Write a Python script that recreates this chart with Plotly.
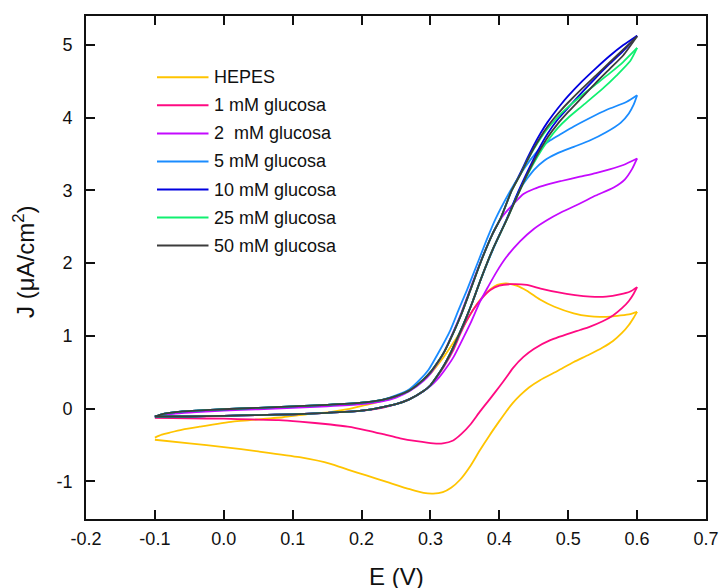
import plotly.graph_objects as go

X_TICKS = [-0.2, -0.1, 0.0, 0.1, 0.2, 0.3, 0.4, 0.5, 0.6, 0.7]
X_LABELS = ["-0.2", "-0.1", "0.0", "0.1", "0.2", "0.3", "0.4", "0.5", "0.6", "0.7"]
Y_TICKS = [-1, 0, 1, 2, 3, 4, 5]
Y_LABELS = ["-1", "0", "1", "2", "3", "4", "5"]

NAMES = ["HEPES", "1 mM glucosa", "2  mM glucosa", "5 mM glucosa",
         "10 mM glucosa", "25 mM glucosa", "50 mM glucosa"]
COLORS = ["#FFC400", "#FF0A82", "#C40AFF", "#1A8CFF", "#0000E0", "#10F070", "#3C3C3C"]

# HEPES
E_HEPES_F = [-0.1, -0.09, -0.078, -0.06, -0.035, 0.013, 0.038, 0.086, 0.12, 0.154, 0.18, 0.207, 0.225,
             0.241, 0.26, 0.28, 0.30, 0.32, 0.333, 0.343, 0.352, 0.362, 0.375, 0.387, 0.397, 0.41,
             0.425, 0.44, 0.459, 0.48, 0.508, 0.53, 0.546, 0.562, 0.576, 0.59, 0.6]
J_HEPES_F = [-0.40, -0.36, -0.33, -0.29, -0.25, -0.18, -0.16, -0.12, -0.08, -0.05, -0.01, 0.05, 0.09,
             0.14, 0.21, 0.32, 0.48, 0.72, 0.90, 1.05, 1.20, 1.36, 1.53, 1.64, 1.70, 1.72,
             1.69, 1.62, 1.50, 1.40, 1.31, 1.27, 1.26, 1.265, 1.28, 1.30, 1.33]
E_HEPES_R = [0.6, 0.595, 0.588, 0.578, 0.565, 0.55, 0.53, 0.508, 0.485, 0.459, 0.443, 0.43, 0.42, 0.41,
             0.401, 0.385, 0.372, 0.358, 0.343, 0.33, 0.318, 0.304, 0.29, 0.27, 0.24, 0.207, 0.18,
             0.155, 0.11, 0.05, 0.0, -0.05, -0.1]
J_HEPES_R = [1.33, 1.25, 1.15, 1.04, 0.93, 0.84, 0.74, 0.64, 0.52, 0.39, 0.29, 0.18, 0.08, -0.04,
             -0.16, -0.38, -0.57, -0.79, -0.98, -1.09, -1.15, -1.17, -1.16, -1.11, -1.02, -0.92, -0.84,
             -0.76, -0.67, -0.59, -0.53, -0.48, -0.43]

# 1 mM
E_1_F = [-0.1, -0.05, 0.0, 0.05, 0.1, 0.15, 0.2, 0.23, 0.25, 0.27, 0.29, 0.30, 0.31, 0.32, 0.333,
         0.343, 0.352, 0.362, 0.375, 0.387, 0.40, 0.416, 0.44, 0.46, 0.484, 0.51, 0.532, 0.555,
         0.575, 0.59, 0.6]
J_1_F = [-0.12, -0.11, -0.10, -0.09, -0.08, -0.06, -0.03, 0.01, 0.06, 0.13, 0.24, 0.32, 0.44, 0.58, 0.80,
         1.02, 1.20, 1.36, 1.52, 1.63, 1.69, 1.71, 1.70, 1.65, 1.60, 1.56, 1.54, 1.54,
         1.57, 1.61, 1.67]
E_1_R = [0.6, 0.595, 0.588, 0.578, 0.565, 0.55, 0.53, 0.517, 0.474, 0.45, 0.435, 0.42, 0.411, 0.40, 0.387,
         0.372, 0.358, 0.345, 0.333, 0.318, 0.304, 0.28, 0.256, 0.23, 0.207, 0.18, 0.155, 0.11, 0.08, 0.04,
         0.0, -0.05, -0.1]
J_1_R = [1.67, 1.58, 1.48, 1.38, 1.28, 1.20, 1.12, 1.08, 0.94, 0.82, 0.71, 0.56, 0.44, 0.30, 0.14,
         -0.04, -0.22, -0.35, -0.44, -0.48, -0.48, -0.45, -0.41, -0.35, -0.30, -0.25, -0.22, -0.18, -0.16, -0.15,
         -0.14, -0.135, -0.13]

# 2 mM
E_2_F = [-0.1, -0.09, -0.07, -0.04, 0.0, 0.05, 0.1, 0.15, 0.2, 0.23, 0.25, 0.27, 0.29, 0.30, 0.31, 0.32,
         0.333, 0.345, 0.356, 0.372, 0.39, 0.405, 0.421, 0.435, 0.45, 0.469, 0.49, 0.517, 0.54, 0.56,
         0.58, 0.6]
J_2_F = [-0.11, -0.09, -0.07, -0.05, -0.03, -0.01, 0.01, 0.03, 0.06, 0.10, 0.15, 0.24, 0.38, 0.48, 0.62, 0.78,
         1.05, 1.32, 1.60, 2.00, 2.40, 2.65, 2.82, 2.95, 3.02, 3.08, 3.13, 3.19, 3.24, 3.29,
         3.35, 3.44]
E_2_R = [0.6, 0.593, 0.582, 0.566, 0.54, 0.517, 0.49, 0.469, 0.45, 0.43, 0.41, 0.396, 0.384, 0.372,
         0.358, 0.345, 0.333, 0.32, 0.31, 0.30, 0.28, 0.25, 0.22, 0.2, 0.15, 0.1, 0.05, 0.0, -0.05, -0.1]
J_2_R = [3.44, 3.30, 3.15, 3.04, 2.93, 2.82, 2.70, 2.59, 2.47, 2.30, 2.08, 1.88, 1.68, 1.47,
         1.17, 0.92, 0.70, 0.52, 0.40, 0.31, 0.18, 0.06, 0.0, -0.03, -0.06, -0.08, -0.09, -0.10, -0.11, -0.11]

# 5 mM
E_5_F = [-0.1, -0.09, -0.07, -0.04, 0.0, 0.05, 0.1, 0.15, 0.2, 0.23, 0.25, 0.27, 0.285, 0.297, 0.31,
         0.329, 0.341, 0.353, 0.37, 0.382, 0.394, 0.415, 0.431, 0.445, 0.459, 0.474, 0.49, 0.508,
         0.53, 0.556, 0.585, 0.6]
J_5_F = [-0.11, -0.08, -0.05, -0.03, -0.01, 0.01, 0.03, 0.05, 0.08, 0.12, 0.18, 0.27, 0.40, 0.53, 0.74,
         1.08, 1.36, 1.63, 2.04, 2.33, 2.60, 2.98, 3.23, 3.42, 3.58, 3.69, 3.78, 3.88,
         3.99, 4.11, 4.22, 4.31]
E_5_R = [0.6, 0.595, 0.588, 0.576, 0.555, 0.532, 0.508, 0.484, 0.465, 0.45, 0.43, 0.41, 0.39, 0.372,
         0.362, 0.343, 0.33, 0.32, 0.31, 0.30, 0.29, 0.27, 0.25, 0.22, 0.2, 0.15, 0.1, 0.05, 0.0, -0.05, -0.1]
J_5_R = [4.31, 4.18, 4.06, 3.93, 3.80, 3.69, 3.60, 3.51, 3.41, 3.28, 3.02, 2.59, 2.17, 1.75,
         1.49, 1.05, 0.78, 0.60, 0.45, 0.32, 0.24, 0.13, 0.06, 0.0, -0.03, -0.06, -0.08, -0.09, -0.10, -0.11, -0.11]

# 10 mM
E_10_F = [-0.1, -0.09, -0.07, -0.04, 0.0, 0.05, 0.1, 0.15, 0.2, 0.23, 0.25, 0.27, 0.29, 0.30, 0.31, 0.32,
          0.335, 0.345, 0.358, 0.374, 0.39, 0.402, 0.418, 0.43, 0.44, 0.45, 0.46, 0.47, 0.48, 0.49,
          0.50, 0.52, 0.54, 0.56, 0.58, 0.6]
J_10_F = [-0.11, -0.08, -0.05, -0.03, -0.01, 0.01, 0.03, 0.05, 0.08, 0.12, 0.17, 0.25, 0.40, 0.50, 0.63, 0.78,
          1.08, 1.30, 1.63, 2.04, 2.40, 2.62, 3.00, 3.23, 3.43, 3.62, 3.79, 3.94, 4.07, 4.19,
          4.30, 4.50, 4.68, 4.85, 5.00, 5.13]
E_10_R = [0.6, 0.58, 0.56, 0.54, 0.52, 0.50, 0.485, 0.47, 0.455, 0.44, 0.425, 0.41, 0.39, 0.372, 0.362,
          0.352, 0.343, 0.33, 0.32, 0.31, 0.30, 0.29, 0.27, 0.25, 0.22, 0.2, 0.15, 0.1, 0.05, 0.0, -0.05, -0.1]
J_10_R = [5.13, 4.92, 4.74, 4.55, 4.35, 4.14, 3.98, 3.78, 3.53, 3.24, 2.93, 2.59, 2.18, 1.75, 1.49,
          1.25, 1.05, 0.78, 0.60, 0.45, 0.32, 0.24, 0.13, 0.06, 0.0, -0.03, -0.06, -0.08, -0.09, -0.10, -0.11, -0.11]

# 25 mM
E_25_F = [-0.1, -0.09, -0.07, -0.04, 0.0, 0.05, 0.1, 0.15, 0.2, 0.23, 0.25, 0.27, 0.29, 0.30, 0.31, 0.32,
          0.335, 0.345, 0.358, 0.374, 0.39, 0.402, 0.418, 0.43, 0.44, 0.45, 0.46, 0.47, 0.48, 0.49,
          0.50, 0.52, 0.54, 0.56, 0.58, 0.6]
J_25_F = [-0.11, -0.08, -0.05, -0.03, -0.01, 0.01, 0.03, 0.05, 0.08, 0.12, 0.17, 0.25, 0.40, 0.50, 0.63, 0.78,
          1.08, 1.30, 1.63, 2.04, 2.40, 2.62, 3.00, 3.21, 3.40, 3.57, 3.72, 3.85, 3.96, 4.06,
          4.15, 4.31, 4.46, 4.61, 4.77, 4.96]
E_25_R = [0.6, 0.59, 0.57, 0.55, 0.52, 0.50, 0.485, 0.47, 0.455, 0.44, 0.425, 0.41, 0.39, 0.372, 0.362,
          0.352, 0.343, 0.33, 0.32, 0.31, 0.30, 0.29, 0.27, 0.25, 0.22, 0.2, 0.15, 0.1, 0.05, 0.0, -0.05, -0.1]
J_25_R = [4.96, 4.78, 4.58, 4.40, 4.16, 4.00, 3.86, 3.68, 3.46, 3.20, 2.90, 2.58, 2.18, 1.75, 1.49,
          1.25, 1.05, 0.78, 0.60, 0.45, 0.32, 0.24, 0.13, 0.06, 0.0, -0.03, -0.06, -0.08, -0.09, -0.10, -0.11, -0.11]

# 50 mM
E_50_F = [-0.1, -0.09, -0.07, -0.04, 0.0, 0.05, 0.1, 0.15, 0.2, 0.23, 0.25, 0.27, 0.29, 0.30, 0.31, 0.32,
          0.335, 0.345, 0.358, 0.374, 0.39, 0.402, 0.418, 0.43, 0.44, 0.45, 0.46, 0.47, 0.48, 0.49,
          0.50, 0.52, 0.54, 0.56, 0.58, 0.6]
J_50_F = [-0.11, -0.08, -0.05, -0.03, -0.01, 0.01, 0.03, 0.05, 0.08, 0.12, 0.17, 0.25, 0.40, 0.50, 0.63, 0.78,
          1.08, 1.30, 1.63, 2.04, 2.40, 2.62, 3.00, 3.21, 3.40, 3.58, 3.74, 3.88, 4.00, 4.11,
          4.21, 4.40, 4.58, 4.76, 4.94, 5.12]
E_50_R = [0.6, 0.58, 0.56, 0.54, 0.52, 0.50, 0.485, 0.47, 0.455, 0.44, 0.425, 0.41, 0.39, 0.372, 0.362,
          0.352, 0.343, 0.33, 0.32, 0.31, 0.30, 0.29, 0.27, 0.25, 0.22, 0.2, 0.15, 0.1, 0.05, 0.0, -0.05, -0.1]
J_50_R = [5.12, 4.86, 4.67, 4.48, 4.28, 4.08, 3.92, 3.73, 3.49, 3.21, 2.90, 2.58, 2.18, 1.75, 1.49,
          1.25, 1.05, 0.78, 0.60, 0.45, 0.32, 0.24, 0.13, 0.06, 0.0, -0.03, -0.06, -0.08, -0.09, -0.10, -0.11, -0.11]

BRANCHES = [
    (E_HEPES_F, J_HEPES_F, E_HEPES_R, J_HEPES_R),
    (E_1_F, J_1_F, E_1_R, J_1_R),
    (E_2_F, J_2_F, E_2_R, J_2_R),
    (E_5_F, J_5_F, E_5_R, J_5_R),
    (E_10_F, J_10_F, E_10_R, J_10_R),
    (E_25_F, J_25_F, E_25_R, J_25_R),
    (E_50_F, J_50_F, E_50_R, J_50_R),
]

# ---------------- figure ----------------
FONT = "Arial, Liberation Sans, sans-serif"
fig = go.Figure()
for name, color, (ef, jf, er, jr) in zip(NAMES, COLORS, BRANCHES):
    for xs, ys in ((ef, jf), (er, jr)):
        fig.add_trace(go.Scatter(
            x=xs, y=ys, mode="lines", name=name, legendgroup=name, showlegend=False,
            line=dict(color=color, width=1.8, shape="spline", smoothing=0.6),
            hoverinfo="skip"))

# manual legend (long line samples as in the original)
L, R_, T, B = 86, 15, 16, 69
W, H = 721, 588
pw, ph = W - L - R_, H - T - B
shapes, annotations = [], []
for i, (name, color) in enumerate(zip(NAMES, COLORS)):
    ypx = 77.3 + i * 28.05
    yp = (H - B - ypx) / ph
    shapes.append(dict(type="line", xref="paper", yref="paper",
                       x0=(157 - L) / pw, x1=(208.5 - L) / pw, y0=yp, y1=yp,
                       line=dict(color=color, width=2)))
    annotations.append(dict(xref="paper", yref="paper", x=(212 - L) / pw, y=yp,
                            text=name, showarrow=False, xanchor="left", yanchor="middle",
                            font=dict(family=FONT, size=18, color="#111")))

annotations.append(dict(xref="paper", yref="paper", x=0.5, y=(H - B - 576) / ph,
                        text="E (V)", showarrow=False, xanchor="center", yanchor="middle",
                        font=dict(family=FONT, size=24, color="#111")))
annotations.append(dict(xref="paper", yref="paper", x=(24 - L) / pw, y=(H - B - 262) / ph,
                        text="J (μA/cm<sup>2</sup>)", showarrow=False, textangle=-90,
                        xanchor="center", yanchor="middle",
                        font=dict(family=FONT, size=24, color="#111")))

axis_common = dict(showline=True, linecolor="#111", linewidth=1.6, mirror="ticks",
                   ticks="inside", ticklen=9, tickwidth=1.5, tickcolor="#111",
                   showgrid=False, zeroline=False, automargin=False,
                   tickfont=dict(family=FONT, size=18, color="#111"))

fig.update_layout(
    width=W, height=H, autosize=False,
    margin=dict(l=L, r=R_, t=T, b=B, pad=0, autoexpand=False),
    paper_bgcolor="white", plot_bgcolor="white",
    showlegend=False,
    xaxis=dict(range=[-0.2, 0.7], tickvals=X_TICKS, ticktext=X_LABELS,
               ticklabelstandoff=3, **axis_common),
    yaxis=dict(range=[-1.52, 5.40], tickvals=Y_TICKS, ticktext=Y_LABELS,
               ticklabelstandoff=8, **axis_common),
    shapes=shapes, annotations=annotations,
)

fig.write_html("out.html",
               config={"responsive": False, "displayModeBar": False},
               post_script="document.body.style.margin='0';")
